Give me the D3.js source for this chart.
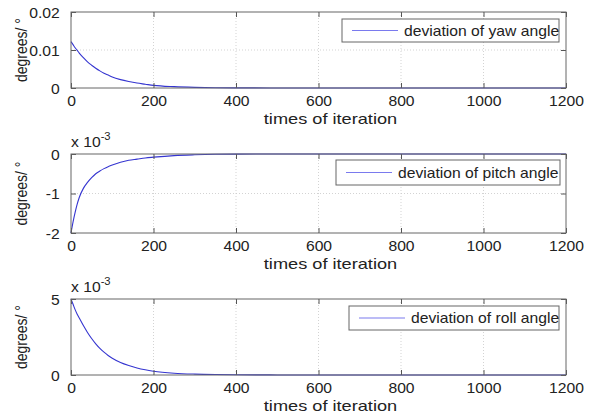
<!DOCTYPE html>
<html><head><meta charset="utf-8">
<script src="https://cdn.jsdelivr.net/npm/d3@7"></script>
<style>
html,body{margin:0;padding:0;background:#fff;}
svg{display:block;}
text{font-family:"Liberation Sans",Arial,sans-serif;fill:#222;}
</style></head>
<body>
<svg id="c" width="594" height="418"></svg>
<script>
// ---- data ----
const iterations = [0,5,10,15,20,30,40,50,60,70,80,90,100,120,140,160,180,200,250,300,350,400,500,600,800,1000,1200];
const yawDeviation = [0.0122,0.0114,0.0106,0.0099,0.0092,0.0080,0.0069,0.0060,0.0052,0.0045,0.0039,0.0034,0.0029,0.0022,0.0017,0.0013,0.0010,0.0007,0.00035,0.00017,0.00008,0.00004,0.00001,0,0,0,0];
const pitchDeviation = [-2.0,-1.72,-1.48,-1.27,-1.10,-0.87,-0.72,-0.60,-0.50,-0.43,-0.37,-0.32,-0.28,-0.21,-0.16,-0.13,-0.10,-0.08,-0.04,-0.02,-0.008,-0.003,0,0,0,0,0]; // x 10^-3
const rollDeviation = [5.0,4.65,4.3,4.0,3.75,3.25,2.8,2.4,2.05,1.75,1.5,1.28,1.1,0.82,0.62,0.46,0.34,0.25,0.12,0.06,0.03,0.015,0.004,0,0,0,0]; // x 10^-3
const xTicks = [0,200,400,600,800,1000,1200];
const yawTicks = [0,0.01,0.02];
const pitchTicks = [-2,-1,0];
const rollTicks = [0,5];
const legendLabels = ["deviation of yaw angle","deviation of pitch angle","deviation of roll angle"];
const xLabel = "times of iteration";
const yLabel = "degrees/ \u00B0";

const panels = [
  {vals: yawDeviation, ticks: yawTicks, dom:[0,0.02], fmt: d=>d===0?"0":d3.format(".2f")(d), top:12, bottom:88, exp:false, leg:{x:342,y:19,w:217,h:23}},
  {vals: pitchDeviation, ticks: pitchTicks, dom:[-2,0], fmt: d=>String(d), top:154, bottom:233, exp:true, leg:{x:336,y:160,w:224,h:25}},
  {vals: rollDeviation, ticks: rollTicks, dom:[0,5], fmt: d=>String(d), top:299, bottom:375, exp:true, leg:{x:349,y:306,w:210,h:24}}
];

const svg = d3.select("#c");
const L = 71, R = 566;
const x = d3.scaleLinear().domain([0,1200]).range([L,R]);
const SX = 1.12;

panels.forEach((p,i)=>{
  const y = d3.scaleLinear().domain(p.dom).range([p.bottom,p.top]);
  const g = svg.append("g");
  // grid
  g.append("g").selectAll("line").data(xTicks.filter(t=>t>0&&t<1200)).join("line")
    .attr("x1",d=>x(d)).attr("x2",d=>x(d)).attr("y1",p.top).attr("y2",p.bottom)
    .attr("stroke","#c8c8c8").attr("stroke-width",0.8).attr("stroke-dasharray","1,2");
  g.append("g").selectAll("line").data(p.ticks.filter(t=>t>p.dom[0]&&t<p.dom[1])).join("line")
    .attr("x1",L).attr("x2",R).attr("y1",d=>y(d)).attr("y2",d=>y(d))
    .attr("stroke","#c8c8c8").attr("stroke-width",0.8).attr("stroke-dasharray","1,2");
  // curve
  const line = d3.line().x((d,j)=>x(iterations[j])).y(d=>y(d)).curve(d3.curveMonotoneX);
  g.append("path").datum(p.vals).attr("d",line).attr("fill","none")
    .attr("stroke","#3535d0").attr("stroke-width",1.1);
  // axes
  const ax = d3.axisBottom(x).tickValues(xTicks).tickSizeInner(-5).tickSizeOuter(0).tickPadding(8).tickFormat(d3.format("d"));
  const bx = g.append("g").attr("transform",`translate(0,${p.bottom})`).call(ax);
  const tx = d3.axisTop(x).tickValues(xTicks).tickSizeInner(-5).tickSizeOuter(0).tickFormat("");
  const tg = g.append("g").attr("transform",`translate(0,${p.top})`).call(tx);
  const ay = d3.axisLeft(y).tickValues(p.ticks).tickSizeInner(-5).tickSizeOuter(0).tickPadding(10).tickFormat(p.fmt);
  const ly = g.append("g").attr("transform",`translate(${L},0)`).call(ay);
  const ry = d3.axisRight(y).tickValues(p.ticks).tickSizeInner(-5).tickSizeOuter(0).tickFormat("");
  const rg = g.append("g").attr("transform",`translate(${R},0)`).call(ry);
  [bx,tg,ly,rg].forEach(a=>{
    a.select(".domain").remove();
    a.selectAll(".tick line").attr("stroke","#555").attr("stroke-width",1);
  });
  bx.selectAll("text").attr("font-size",14).attr("fill","#222").attr("font-family","Liberation Sans, Arial, sans-serif")
    .attr("transform",`scale(${SX},1)`);
  ly.selectAll("text").attr("font-size",14).attr("fill","#222").attr("font-family","Liberation Sans, Arial, sans-serif")
    .attr("dy","0.36em").attr("transform",`scale(${SX},1)`);
  // frame
  g.append("rect").attr("x",L).attr("y",p.top).attr("width",R-L).attr("height",p.bottom-p.top)
    .attr("fill","none").attr("stroke","#666").attr("stroke-width",1);
  // exponent
  if(p.exp){
    const t = g.append("text").attr("transform",`translate(${L},${p.top-7}) scale(${SX},1)`).attr("font-size",14);
    t.append("tspan").text("x 10");
    t.append("tspan").attr("dy",-7).attr("font-size",10).text("-3");
  }
  // labels
  g.append("text").attr("transform",`translate(${(L+R)/2+12},${p.bottom+36}) scale(1.3,1)`)
    .attr("text-anchor","middle").attr("font-size",14).text(xLabel);
  g.append("text").attr("transform",`translate(27,${(p.top+p.bottom)/2}) rotate(-90) scale(1,1.12)`)
    .attr("text-anchor","middle").attr("font-size",14).text(yLabel);
  // legend
  const lg = g.append("g");
  lg.append("rect").attr("x",p.leg.x).attr("y",p.leg.y).attr("width",p.leg.w).attr("height",p.leg.h)
    .attr("fill","#fff").attr("stroke","#666").attr("stroke-width",1);
  lg.append("line").attr("x1",p.leg.x+10).attr("x2",p.leg.x+56).attr("y1",p.leg.y+p.leg.h/2).attr("y2",p.leg.y+p.leg.h/2)
    .attr("stroke","#7a7aee").attr("stroke-width",1.2);
  lg.append("text").attr("transform",`translate(${p.leg.x+62},${p.leg.y+p.leg.h/2}) scale(${SX},1)`)
    .attr("dy","0.36em").attr("font-size",14).text(legendLabels[i]);
});
</script>
</body></html>
